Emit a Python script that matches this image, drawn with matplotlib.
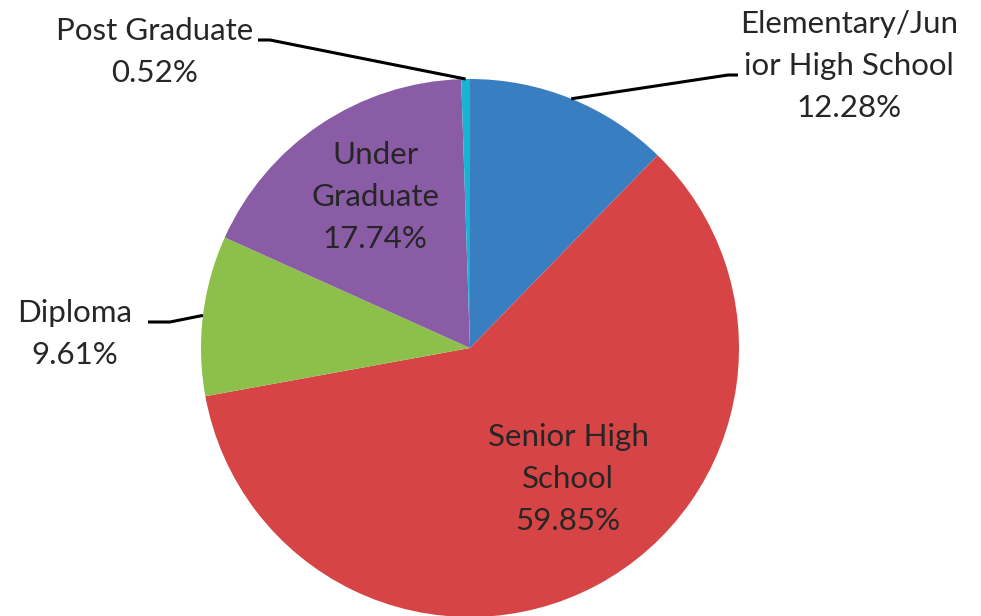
import numpy as np
import matplotlib
matplotlib.use("Agg")
import matplotlib.pyplot as plt

categories = ["Elementary/Junior High School", "Senior High School", "Diploma",
              "Under Graduate", "Post Graduate"]
values = [12.28, 59.85, 9.61, 17.74, 0.52]
label_texts = ["Elementary/Jun\nior High School\n12.28%",
               "Senior High\nSchool\n59.85%",
               "Diploma\n9.61%",
               "Under\nGraduate\n17.74%",
               "Post Graduate\n0.52%"]
colors = ["#3A7EC2", "#D64446", "#8DC04B", "#8A5CA6", "#1AB2D2"]

W, H = 981, 616
cx, cy, R = 470, 348, 269
fig = plt.figure(figsize=(W / 100, H / 100), dpi=100)
ax = fig.add_axes([(cx - R) / W, (H - cy - R) / H, 2 * R / W, 2 * R / H])
wedges, _ = ax.pie(values, colors=colors, startangle=90, counterclock=False,
                   radius=1.0, wedgeprops=dict(linewidth=0))
ax.set_xlim(-1, 1)
ax.set_ylim(-1, 1)
ax.set_aspect("equal")
ax.axis("off")

def px(x, y):
    return ((x - cx) / R, (cy - y) / R)

font = dict(family=["Lato", "DejaVu Sans"], fontsize=22.5, color="#262626",
            ha="center", va="center", linespacing=1.62)

# label positions (pixel centers) and elbow points
label_pos = {0: (849, 66), 1: (568, 479), 2: (75, 334), 3: (375, 197), 4: (155, 52)}
elbows = {0: [(728, 75), (738, 75)], 2: [(170, 322), (148, 322)],
          4: [(270, 40), (258, 40)]}

for i, w in enumerate(wedges):
    x, y = px(*label_pos[i])
    ax.text(x, y, label_texts[i], **font)
    if i in elbows:
        ang = np.deg2rad((w.theta1 + w.theta2) / 2)
        ex, ey = np.cos(ang), np.sin(ang)
        pts = [(ex, ey)] + [px(*p) for p in elbows[i]]
        xs, ys = zip(*pts)
        ax.plot(xs, ys, color="black", lw=2.2, clip_on=False,
                solid_capstyle="butt")

fig.savefig("out.png", dpi=100)
